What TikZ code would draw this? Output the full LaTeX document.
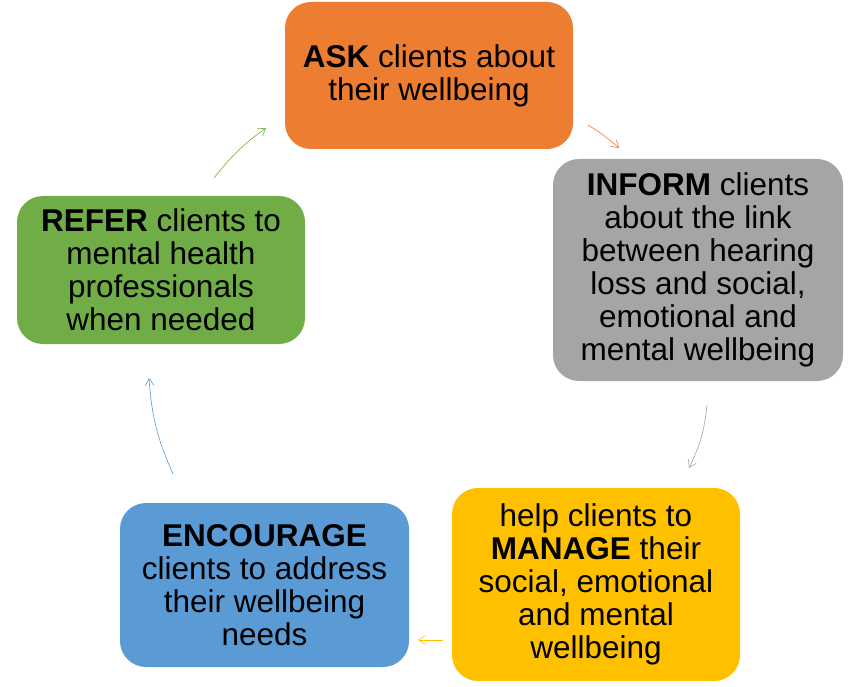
\documentclass[tikz,border=0pt]{standalone}
\usepackage{fontspec}
\setmainfont{Liberation Sans}
\usetikzlibrary{arrows.meta}
\definecolor{cask}{HTML}{ED7D31}
\definecolor{cinf}{HTML}{A5A5A5}
\definecolor{cman}{HTML}{FFC000}
\definecolor{cenc}{HTML}{5B9BD5}
\definecolor{cref}{HTML}{70AD47}
\begin{document}
\begin{tikzpicture}[x=1pt,y=-1pt,
  box/.style={rectangle, rounded corners=26pt, inner sep=0pt, align=center,
    font=\fontsize{31.5}{33}\selectfont, text=black},
  conn/.style={line width=0.6pt, -{Straight Barb[length=7pt,width=9pt,line width=0.6pt]}}]
\useasboundingbox (0,0) rectangle (860,687);
\node[box, fill=cask, minimum width=288pt, minimum height=147pt] (ask) at (429,75.5)
  {\textbf{ASK} clients about\\their wellbeing};
\node[box, fill=cinf, minimum width=290pt, minimum height=222pt] (inf) at (698,270)
  {\textbf{INFORM} clients\\about the link\\between hearing\\loss and social,\\emotional and\\mental wellbeing};
\node[box, fill=cman, minimum width=288pt, minimum height=193pt] (man) at (596,584.5)
  {help clients to\\\textbf{MANAGE} their\\social, emotional\\and mental\\wellbeing};
\node[box, fill=cenc, minimum width=289pt, minimum height=164pt] (enc) at (264.5,585)
  {\textbf{ENCOURAGE}\\clients to address\\their wellbeing\\needs};
\node[box, fill=cref, minimum width=288pt, minimum height=148pt] (ref) at (161,270)
  {\textbf{REFER} clients to\\mental health\\professionals\\when needed};
\coordinate (a1) at (588,125); \coordinate (a2) at (619,148);
\coordinate (b1) at (707,405); \coordinate (b2) at (689,468);
\coordinate (c1) at (443,640); \coordinate (c2) at (418,640);
\coordinate (d1) at (173,474); \coordinate (d2) at (149,378);
\coordinate (e1) at (214,178); \coordinate (e2) at (266,128);
\draw[conn, cask] (a1) to[bend left=5] (a2);
\draw[conn, cinf] (b1) to[bend left=10] (b2);
\draw[conn, cman] (c1) -- (c2);
\draw[conn, cenc] (d1) to[bend left=10] (d2);
\draw[conn, cref] (e1) to[bend left=8] (e2);
\end{tikzpicture}
\end{document}
